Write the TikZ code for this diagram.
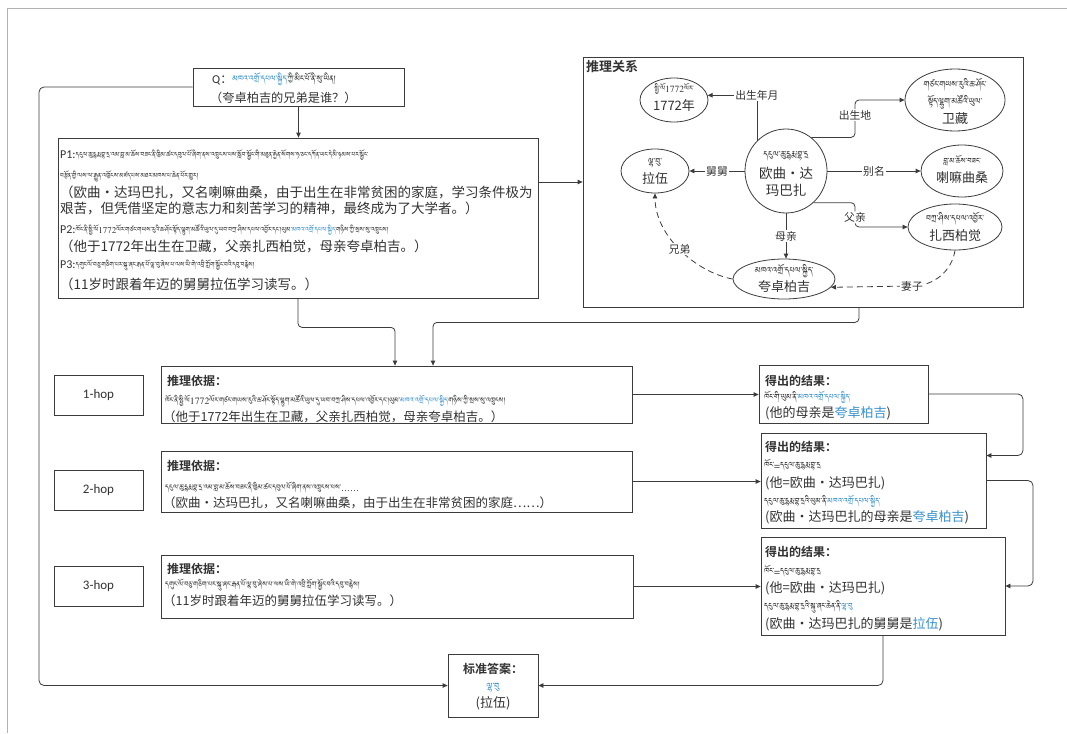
\documentclass[tikz,border=0pt]{standalone}
\usepackage{fontspec}
\usetikzlibrary{arrows.meta,shapes.geometric}
\setmainfont{Noto Sans CJK SC}[BoldFont={Noto Sans CJK SC Bold}]
\newfontfamily\lat{Carlito}
\IfFontExistsTF{Jomolhari}{\newfontfamily\tib[Script=Tibetan]{Jomolhari}}{%
 \IfFontExistsTF{Tibetan Machine Uni}{\newfontfamily\tib[Script=Tibetan]{Tibetan Machine Uni}}{%
  \IfFontExistsTF{Noto Serif Tibetan}{\newfontfamily\tib[Script=Tibetan]{Noto Serif Tibetan}}{%
   \IfFontExistsTF{Noto Sans Tibetan}{\newfontfamily\tib[Script=Tibetan]{Noto Sans Tibetan}}{%
    \newfontfamily\tib{Noto Sans CJK SC}}}}}
\definecolor{ln}{RGB}{60,60,60}
\definecolor{tx}{RGB}{50,50,50}
\definecolor{bl}{RGB}{55,145,205}
\newcommand\mkbx[5]{\node[bx, minimum width={#4-#2}, minimum height={#5-#3}] (#1) at ({(#2+#4)/2},{(#3+#5)/2}) {};}
\newcommand\tbs[1]{\tib\fontsize{#1}{#1}\selectfont}
\tikzset{
 bx/.style={draw=ln, line width=0.8pt, inner sep=0pt},
 el/.style={ellipse, draw=ln, line width=0.8pt, inner sep=0pt},
 arr/.style={-{Triangle[length=5pt,width=4.5pt]}, draw=ln, line width=0.8pt},
 lbl/.style={fill=white, inner sep=1pt, font=\fontsize{10.8}{12}\selectfont, text=tx},
 tb/.style={font=\tbs{10.5}, text=tx, inner sep=0pt},
 zh/.style={font=\fontsize{13}{15}\selectfont, text=tx, inner sep=0pt},
 zp/.style={font=\fontsize{13.5}{15}\selectfont, text=tx, inner sep=0pt, anchor=west},
 ze/.style={font=\fontsize{12.5}{15}\selectfont, text=tx, inner sep=0pt, anchor=west},
 hd/.style={font=\bfseries\fontsize{12}{14}\selectfont, text=tx, inner sep=0pt, anchor=west},
 tl/.style={font=\tbs{8.7}, text=tx, inner sep=0pt, anchor=west},
 tr/.style={font=\tbs{9.5}, text=tx, inner sep=0pt, anchor=west},
 lt/.style={font=\lat\fontsize{13}{15}\selectfont, text=tx},
}
\begin{document}
\begin{tikzpicture}[x=1pt,y=-1pt]
\useasboundingbox (0,0) rectangle (1067,733);
\fill[white] (0,0) rectangle (1067,733);
\draw[gray!60, line width=0.8pt] (7,733) -- (7,8) -- (1067,8);

% boxes
\mkbx{Q}{193}{68}{404}{106}
\mkbx{P}{58}{138}{538}{298}
\mkbx{R}{583}{57}{1023}{307}
\mkbx{H1}{54}{375}{143}{415}
\mkbx{H2}{54}{470}{143}{510}
\mkbx{H3}{54}{566}{143}{606}
\mkbx{E1}{161}{366}{632}{423}
\mkbx{E2}{161}{451}{632}{512}
\mkbx{E3}{161}{555}{633}{618}
\mkbx{R1}{759}{365}{928}{423}
\mkbx{R2}{761}{433}{986}{528}
\mkbx{R3}{761}{537}{1005}{635}
\mkbx{A}{448}{654}{538}{717}

% Q text
\node[inner sep=0pt, anchor=base west, text=tx] (q1) at (212,84) {{\lat\fontsize{12}{14}\selectfont Q}{\fontsize{12}{14}\selectfont ：}{\tbs{10}\color{bl}མཁའ་འགྲོ་དཔལ་སྐྱིད་}{\tbs{10}ཀྱི་མིང་པོ་ནི་སུ་ཡིན།}};
\node[zp, font=\fontsize{12.2}{14}\selectfont] (q2) at (210,98) {（夸卓柏吉的兄弟是谁？）};

% P text
\node[inner sep=0pt, anchor=base west, text=tx] (p1) at (60,158) {{\lat\fontsize{12}{14}\selectfont P1:}{\tbs{8}དངུལ་ཆུ་དྷརྨ་བྷ་དྲ་འམ་བླ་མ་ཆོས་བཟང་ནི་ཁྱིམ་ཚང་དབུལ་པོ་ཞིག་ནས་འཁྲུངས་པས་སློབ་སྦྱོང་གི་མཐུན་རྐྱེན་སོགས་ཧ་ཅང་དཀོན་ཡང་དེ་མི་ཉམས་པར་སྦྱོང་}};
\node[tl, font=\tbs{8}] (p1b) at (60,176) {བརྩོན་གྱི་ལས་ལ་རྒྱུན་འཁྱོངས་མཛད་པས་མཐར་མཁས་པ་ཆེན་པོར་གྱུར།};
\node[zp] (p1c) at (60,192) {（欧曲•达玛巴扎，又名喇嘛曲桑，由于出生在非常贫困的家庭，学习条件极为};
\node[zp] (p1d) at (60,208) {艰苦，但凭借坚定的意志力和刻苦学习的精神，最终成为了大学者。）};
\node[inner sep=0pt, anchor=base west, text=tx] (p2) at (60,233) {{\lat\fontsize{12}{14}\selectfont P2:}{\tbs{8}ཁོང་ནི་སྤྱི་ལོ1772ལོར་གཙང་གཡས་རུའི་ཆ་ཤོང་སྟོད་ལྷུག་མཚོའི་ཡུལ་དུ་ཡབ་བཀྲ་ཤིས་དཔལ་འབྱོར་དང་།ཡུམ་{\color{bl}མཁའ་འགྲོ་དཔལ་སྐྱིད་}གཉིས་ཀྱི་སྲས་སུ་འཁྲུངས།}};
\node[zp] (p2b) at (60,246) {（他于1772年出生在卫藏，父亲扎西柏觉，母亲夸卓柏吉。）};
\node[inner sep=0pt, anchor=base west, text=tx] (p3) at (60,268) {{\lat\fontsize{12}{14}\selectfont P3:}{\tbs{8}དགུང་ལོ་བཅུ་གཅིག་པར་སྐུ་ཞང་རྒན་པོ་ལྷ་བུ་ཞེས་པ་ལས་ཡི་གེ་འབྲི་ཀློག་སྦྱོང་བའི་དབུ་བརྙེས།}};
\node[zp] (p3b) at (60,284) {（11岁时跟着年迈的舅舅拉伍学习读写。）};

% hop labels
\node[lt] (h1t) at (H1) {1-hop};
\node[lt] (h2t) at (H2) {2-hop};
\node[lt] (h3t) at (H3) {3-hop};

% evidence texts
\node[hd] (e1a) at (167,381) {推理依据：};
\node[tl] (e1b) at (165,401) {ཁོང་ནི་སྤྱི་ལོ1772ལོར་གཙང་གཡས་རུའི་ཆ་ཤོང་སྟོད་ལྷུག་མཚོའི་ཡུལ་དུ་ཡབ་བཀྲ་ཤིས་དཔལ་འབྱོར་དང་།ཡུམ་{\color{bl}མཁའ་འགྲོ་དཔལ་སྐྱིད་}གཉིས་ཀྱི་སྲས་སུ་འཁྲུངས།};
\node[ze] (e1c) at (163,417) {（他于1772年出生在卫藏，父亲扎西柏觉，母亲夸卓柏吉。）};
\node[hd] (e2a) at (167,466) {推理依据：};
\node[tl] (e2b) at (165,487) {དངུལ་ཆུ་དྷརྨ་བྷ་དྲ་འམ་བླ་མ་ཆོས་བཟང་ནི་ཁྱིམ་ཚང་དབུལ་པོ་ཞིག་ནས་འཁྲུངས་པས་……};
\node[ze] (e2c) at (163,503) {（欧曲•达玛巴扎，又名喇嘛曲桑，由于出生在非常贫困的家庭……）};
\node[hd] (e3a) at (167,569) {推理依据：};
\node[tl] (e3b) at (165,585) {དགུང་ལོ་བཅུ་གཅིག་པར་སྐུ་ཞང་རྒན་པོ་ལྷ་བུ་ཞེས་པ་ལས་ཡི་གེ་འབྲི་ཀློག་སྦྱོང་བའི་དབུ་བརྙེས།};
\node[ze] (e3c) at (163,601) {（11岁时跟着年迈的舅舅拉伍学习读写。）};

% result texts
\node[hd] (r1a) at (765,381) {得出的结果：};
\node[tr] (r1b) at (764,397) {ཁོང་གི་ཡུམ་ནི་{\color{bl}མཁའ་འགྲོ་དཔལ་སྐྱིད་}};
\node[zh, anchor=west] (r1c) at (765,413) {(他的母亲是{\color{bl}夸卓柏吉})};
\node[hd] (r2a) at (765,447) {得出的结果：};
\node[tr] (r2b) at (764,465) {ཁོང་=དངུལ་ཆུ་དྷརྨ་བྷ་དྲ};
\node[zh, anchor=west] (r2c) at (765,483) {(他=欧曲•达玛巴扎)};
\node[tr] (r2d) at (764,501) {དངུལ་ཆུ་དྷརྨ་བྷ་དྲའི་ཡུམ་ནི་{\color{bl}མཁའ་འགྲོ་དཔལ་སྐྱིད་}};
\node[zh, anchor=west] (r2e) at (765,517) {(欧曲•达玛巴扎的母亲是{\color{bl}夸卓柏吉})};
\node[hd] (r3a) at (765,552) {得出的结果：};
\node[tr] (r3b) at (764,571) {ཁོང་=དངུལ་ཆུ་དྷརྨ་བྷ་དྲ};
\node[zh, anchor=west] (r3c) at (765,588) {(他=欧曲•达玛巴扎)};
\node[tr] (r3d) at (764,607) {དངུལ་ཆུ་དྷརྨ་བྷ་དྲའི་སྐུ་ཞང་ཆེན་ནི་{\color{bl}ལྷ་བུ}};
\node[zh, anchor=west] (r3e) at (765,624) {(欧曲•达玛巴扎的舅舅是{\color{bl}拉伍})};

% answer
\node[hd, anchor=center] (aa) at (493,669) {标准答案：};
\node[tb, font=\tbs{11}, text=bl] (ab) at (493,688) {ལྷ་བུ};
\node[zh] (ac) at (493,703) {(拉伍)};

% main connectors
\coordinate (lc) at (39,400);
\coordinate (rc1) at (1023,420);
\coordinate (rc2) at (1033,530);
\draw[arr] (Q.south) -- (Q.south |- P.north);
\draw[arr] ([yshift=36pt]P.east) -- ([yshift=36pt]P.east -| R.west);
\draw[arr, rounded corners=4pt] (P.south) -- ++(0,29) -| ([xshift=-1.5pt]E1.north);
\draw[arr, rounded corners=4pt] ([xshift=56pt]R.south) -- ++(0,15) -| ([xshift=36.5pt]E1.north);
\draw[arr, rounded corners=5pt] (Q.west) -| (lc) |- (A.west);
\draw[arr] (E1.east) -- (E1.east -| R1.west);
\draw[arr] (E2.east) -- (E2.east -| R2.west);
\draw[arr] (E3.east) -- (E3.east -| R3.west);
\draw[arr, rounded corners=5pt] (R1.east) -| (rc1) |- ([yshift=25pt]R2.east);
\draw[arr, rounded corners=5pt] (R2.east) -| (rc2) |- (R3.east);
\draw[arr, rounded corners=5pt] (R3.south) |- (A.east);

% relation graph
\node[hd, font=\bfseries\fontsize{13}{15}\selectfont] (rt) at (586,67) {推理关系};
\node[el, minimum width=68, minimum height=44] (n1772) at (674,100) {};
\node[el, minimum width=82, minimum height=84] (big) at (786,171) {};
\node[el, minimum width=100, minimum height=62] (wz) at (955,100) {};
\node[el, minimum width=82, minimum height=52] (lm) at (962,171) {};
\node[el, minimum width=68, minimum height=44] (lw) at (655,171) {};
\node[el, minimum width=94, minimum height=46] (zx) at (955,227) {};
\node[el, minimum width=102, minimum height=40] (kz) at (784,279) {};

\node[tb, font=\tbs{8.5}] (t1a) at (674,89) {སྤྱི་ལོ1772ལོར་};
\node[zh] (t1b) at (674,106) {1772年};
\node[tb] (t2a) at (786,156) {དངུལ་ཆུ་དྷརྨ་བྷ་དྲ};
\node[zh, font=\fontsize{13.5}{15}\selectfont] (t2b) at (786,173) {欧曲•达};
\node[zh, font=\fontsize{13.5}{15}\selectfont] (t2c) at (786,190) {玛巴扎};
\node[tb] (t3a) at (955,85) {གཙང་གཡས་རུའི་ཆ་ཤོང་};
\node[tb] (t3b) at (955,102) {སྟོད་ལྷུག་མཚོའི་ཡུལ་};
\node[zh] (t3c) at (955,119) {卫藏};
\node[tb, font=\tbs{9.5}] (t4a) at (962,161) {བླ་མ་ཆོས་བཟང་};
\node[zh] (t4b) at (962,178) {喇嘛曲桑};
\node[tb] (t5a) at (655,163) {ལྷ་བུ་};
\node[zh] (t5b) at (655,179) {拉伍};
\node[tb] (t6a) at (955,219) {བཀྲ་ཤིས་དཔལ་འབྱོར་};
\node[zh] (t6b) at (955,236) {扎西柏觉};
\node[tb] (t7a) at (784,271) {མཁའ་འགྲོ་དཔལ་སྐྱིད་};
\node[zh] (t7b) at (784,287) {夸卓柏吉};

\coordinate (cx) at (855,0);
\draw[arr] (big.134) |- node[lbl]{出生年月} (n1772.8);
\draw[arr, rounded corners=4pt] (big.53) -- (big.53 -| cx) -- node[lbl, pos=0.6]{出生地} (cx |- wz.west) -- (wz.west);
\draw[arr] (big.east) -- node[lbl]{别名} (lm.west);
\draw[arr] (big.west) -- node[lbl]{舅舅} (lw.east);
\draw[arr, rounded corners=4pt] (big.-49) -- (big.-49 -| cx) -- node[lbl, pos=0.6]{父亲} (cx |- zx.west) -- (zx.west);
\draw[arr] (big.south) -- node[lbl]{母亲} (big.south |- kz.north);
\draw[arr, dash pattern=on 6pt off 4pt] (kz.west) .. controls (695,272) and (655,235) .. node[lbl]{兄弟} (lw.south);
\draw[arr, dash pattern=on 6pt off 4pt] (zx.south) .. controls (952,270) and (935,286) .. (912,286) node[lbl]{妻子} -- (kz.-10);
\end{tikzpicture}
\end{document}
